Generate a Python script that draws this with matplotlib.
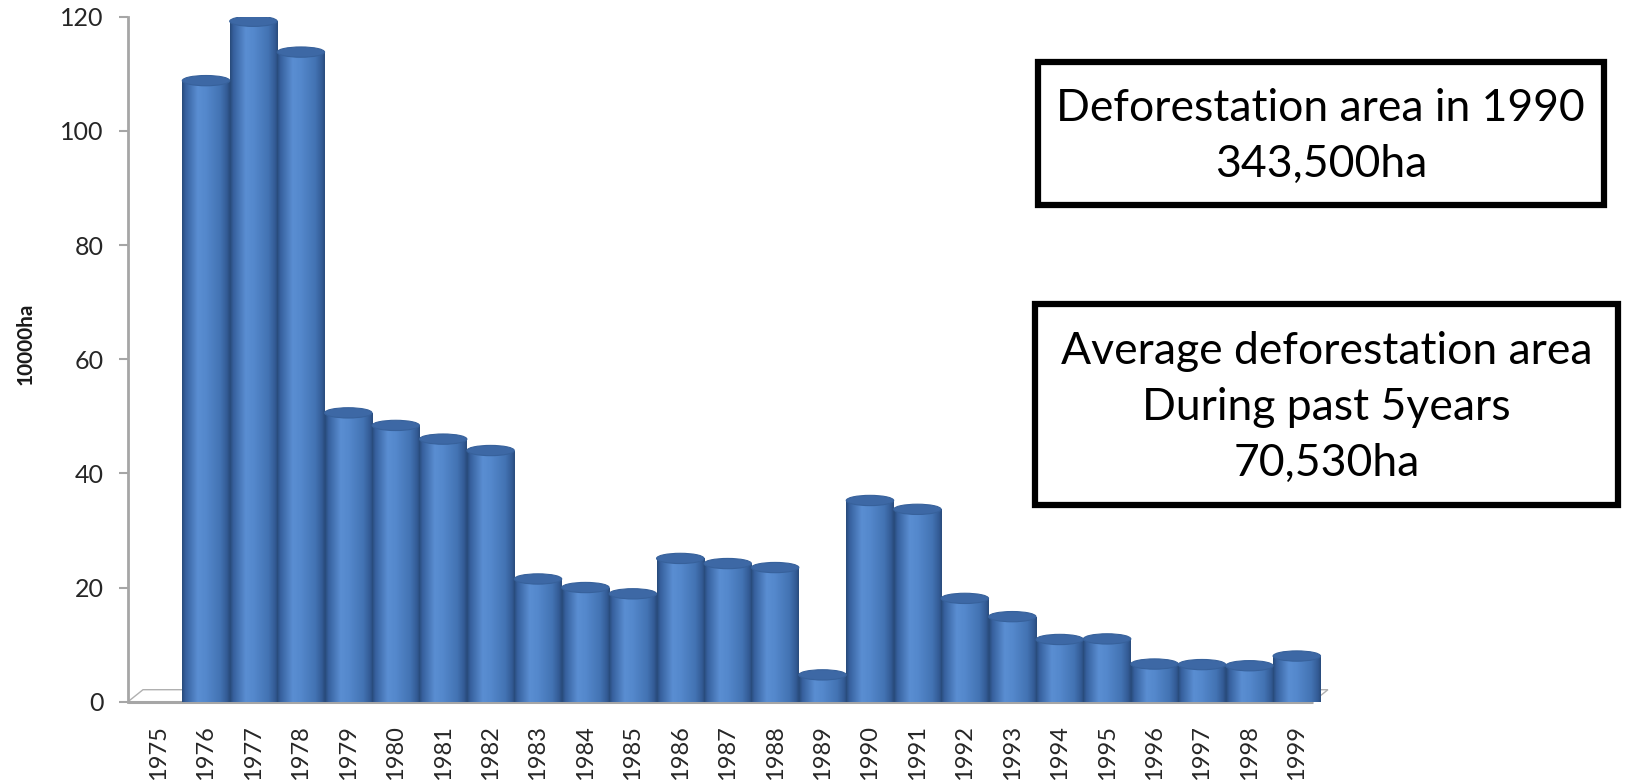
import numpy as np
import matplotlib
matplotlib.use("Agg")
import matplotlib.pyplot as plt
from matplotlib.patches import Rectangle, Ellipse, Polygon
from matplotlib.colors import LinearSegmentedColormap
import matplotlib.transforms as mtransforms

# Annual deforestation area (unit: 10000 ha)
years = [str(y) for y in range(1975, 2000)]
area = [0, 107.9, 118.3, 112.9, 49.7, 47.5, 45.1, 43.1, 20.6, 19.1, 18.0,
        24.2, 23.3, 22.6, 3.8, 34.35, 32.8, 17.2, 14.0, 10.0, 10.1,
        5.7, 5.6, 5.4, 7.1]

y_ticks = [0, 20, 40, 60, 80, 100, 120]
y_label = "10000ha"
note_1990 = "Deforestation area in 1990\n343,500ha"
note_avg = "Average deforestation area\nDuring past 5years\n70,530ha"

W, H = 1627, 781
fig = plt.figure(figsize=(W / 100, H / 100), dpi=100)
fig.patch.set_facecolor("white")

def px_box(x0, y0, x1, y1):
    """Figure-fraction rectangle from pixel coords measured from the top-left."""
    return [x0 / W, 1 - y1 / H, (x1 - x0) / W, (y1 - y0) / H]

X_LEFT, X_RIGHT = -0.645, 24.7
ax = fig.add_axes(px_box(128, 16.7, 1330, 701.7))
ax.set_facecolor("none")
x = np.arange(len(years))

# cylinder shading: dark rim, bright band left of centre, dark right rim
body_cmap = LinearSegmentedColormap.from_list("cyl", [
    (0.00, "#284A79"), (0.07, "#36609D"), (0.33, "#5A8ED2"),
    (0.50, "#5488CC"), (0.80, "#4373B3"), (0.94, "#335B95"),
    (1.00, "#294B7B")])
grad = np.linspace(0, 1, 256).reshape(1, -1)

bar_w = 1.0
cap_h = 1.8  # ellipse height of the cylinder top, in data units
for xi, v in zip(x, area):
    if v <= 0:
        continue
    x0, x1 = xi - bar_w / 2, xi + bar_w / 2
    top = v + cap_h / 2
    body = Rectangle((x0, 0), bar_w, top, facecolor="none", edgecolor="none")
    ax.add_patch(body)
    im = ax.imshow(grad, cmap=body_cmap, extent=[x0, x1, 0, top],
                   aspect="auto", interpolation="bilinear", zorder=2)
    im.set_clip_path(body)
    cap = Ellipse((xi, top), bar_w, cap_h, facecolor="#3D68A5",
                  edgecolor="#37619B", linewidth=0.8, zorder=3)
    ax.add_patch(cap)

ax.set_xlim(X_LEFT, X_RIGHT)
ax.set_ylim(0, 120)

# floor of the 3-D plot area
floor_end = 24.34
depth = mtransforms.ScaledTranslation(15 / 100, 12 / 100, fig.dpi_scale_trans)
floor_back = ax.transData + depth
ax.add_patch(Polygon([ax.transData.transform((X_LEFT, 0)),
                      ax.transData.transform((floor_end, 0)),
                      floor_back.transform((floor_end, 0)),
                      floor_back.transform((X_LEFT, 0))],
                     closed=True, transform=None, facecolor="white",
                     edgecolor="#B0B0B0", linewidth=1.0, zorder=1,
                     clip_on=False))
ax.plot([X_LEFT, floor_end], [0, 0], color="#A6A6A6", lw=2.2, zorder=1.5,
        clip_on=False, solid_capstyle="butt")

for s in ["top", "right", "bottom"]:
    ax.spines[s].set_visible(False)
ax.spines["left"].set_color("#A6A6A6")
ax.spines["left"].set_linewidth(2.0)

ax.set_yticks(y_ticks)
ax.set_yticklabels([str(t) for t in y_ticks], fontsize=18,
                   family="Lato", color="#262626")
ax.tick_params(axis="y", length=6.5, width=1.5, color="#A6A6A6", pad=11)
ax.set_xticks(x)
ax.set_xticklabels(years, rotation=90, fontsize=17, family="Lato",
                   color="#262626", va="top")
ax.tick_params(axis="x", length=0, pad=17)

fig.text(26 / W, 1 - 344 / H, y_label, rotation=90, ha="center",
         va="center", fontsize=15, fontweight="bold", family="Lato",
         color="#1A1A1A")

# annotation boxes
for (bx0, by0, bx1, by1), txt in [((1037.5, 62, 1604, 204.5), note_1990),
                                  ((1035, 304, 1618, 505), note_avg)]:
    l, b, w, h = px_box(bx0, by0, bx1, by1)
    fig.patches.append(Rectangle((l, b), w, h, transform=fig.transFigure,
                                 facecolor="white", edgecolor="black",
                                 linewidth=4.5, joinstyle="miter"))
    fig.text(l + w / 2, b + h / 2 - 3 / H, txt, ha="center", va="center",
             fontsize=32, family="Lato", color="black", linespacing=1.45)

fig.savefig("out.png", dpi=100, facecolor="white")
